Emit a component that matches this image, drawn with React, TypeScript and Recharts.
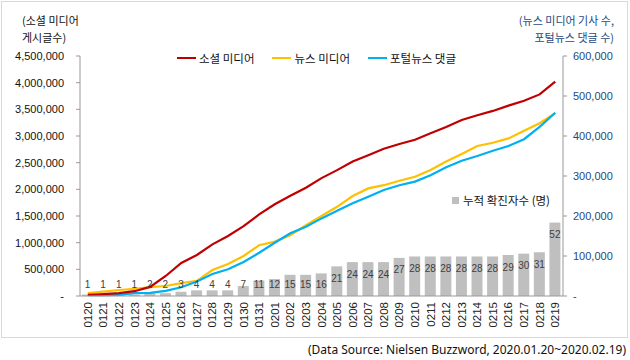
import { ComposedChart, Bar, Line, XAxis, YAxis, LabelList } from 'recharts';

const days = ['0120', '0121', '0122', '0123', '0124', '0125', '0126', '0127', '0128', '0129', '0130', '0131', '0201', '0202', '0203', '0204', '0205', '0206', '0207', '0208', '0209', '0210', '0211', '0212', '0213', '0214', '0215', '0216', '0217', '0218', '0219'];
const socialPosts = [20000, 35000, 55000, 90000, 170000, 375000, 619000, 769000, 969000, 1125000, 1310000, 1530000, 1720000, 1880000, 2030000, 2210000, 2360000, 2520000, 2640000, 2760000, 2850000, 2930000, 3050000, 3170000, 3300000, 3390000, 3470000, 3570000, 3660000, 3780000, 4020000];
const newsArticles = [7000, 11000, 15000, 18000, 22000, 25000, 32000, 38000, 65000, 80000, 100000, 127000, 136000, 152000, 177000, 200000, 223000, 250000, 269000, 277000, 288000, 298000, 315000, 336000, 355000, 375000, 383000, 394000, 413000, 432000, 457000];
const portalComments = [2000, 2000, 3000, 7000, 8000, 13000, 22000, 36000, 55000, 67000, 85000, 108000, 133000, 157000, 173000, 194000, 213000, 232000, 248000, 265000, 277000, 286000, 302000, 322000, 338000, 350000, 363000, 375000, 392000, 423000, 458000];
const confirmed = [1, 1, 1, 1, 2, 2, 3, 4, 4, 4, 7, 11, 12, 15, 15, 16, 21, 24, 24, 24, 27, 28, 28, 28, 28, 28, 28, 29, 30, 31, 52];
const leftTicks = [0, 500000, 1000000, 1500000, 2000000, 2500000, 3000000, 3500000, 4000000, 4500000];
const rightTicks = [0, 100000, 200000, 300000, 400000, 500000, 600000];

const data = days.map((d, i) => ({
    day: d,
    social: socialPosts[i],
    news: newsArticles[i],
    portal: portalComments[i],
    cases: confirmed[i],
}));

const fmt = (v: number) => (v === 0 ? '-' : v.toLocaleString('en-US'));
const FONT = 'Arial, "Liberation Sans", "Noto Sans CJK KR", sans-serif';
const KFONT = '"Noto Sans CJK KR", "Malgun Gothic", sans-serif';

const DayTick = (props: any) => {
    const { x, y, payload } = props;
    return (
        <text x={x} y={y} transform={`rotate(-90 ${x} ${y})`} textAnchor="end" dominantBaseline="central"
            fontSize={11.5} fill="#222" fontFamily={FONT}>
            {payload.value}
        </text>
    );
};

// 값 라벨: 막대 안쪽 위, 막대가 짧으면 바닥 위에 고정
const CaseLabel = (props: any) => {
    const { x, y, width, height, value } = props;
    const base = y + height;
    const cy = Math.min(y + 12, base - 12);
    return (
        <text x={x + width / 2} y={cy} textAnchor="middle" dominantBaseline="central"
            fontSize={10} fill="#404040" fontFamily={FONT}>
            {value}
        </text>
    );
};

const legendItems = [
    { name: '소셜 미디어', color: '#C00000' },
    { name: '뉴스 미디어', color: '#FFC000' },
    { name: '포털뉴스 댓글', color: '#00B0F0' },
];

const titleStyle = { position: 'absolute' as const, fontSize: 11, lineHeight: '12px', whiteSpace: 'nowrap' as const };

export default function App() {
    return (
        <div style={{ position: 'absolute', left: 0, top: 0, width: 630, height: 360, background: '#fff', fontFamily: KFONT }}>
            {/* frame */}
            <div style={{ position: 'absolute', left: 1, top: 1, width: 625, height: 335, border: '1px solid #D9D9D9' }} />

            <div style={{ position: 'absolute', left: 0, top: 0 }}>
                <ComposedChart width={630} height={340} data={data} margin={{ top: 56, right: 0, bottom: 0, left: 0 }}>
                    <XAxis dataKey="day" interval={0} height={44} tickLine={false} tickSize={0} tickMargin={6}
                        stroke="#999" tick={<DayTick />} />
                    <YAxis yAxisId="left" width={80} domain={[0, 4500000]} ticks={leftTicks} tickFormatter={fmt}
                        stroke="#999" tickSize={4} tickMargin={12} interval={0}
                        tick={{ fontSize: 11, fill: '#111', fontFamily: FONT }} />
                    <YAxis yAxisId="right" orientation="right" width={67} domain={[0, 600000]} ticks={rightTicks}
                        tickFormatter={fmt} stroke="#999" tickSize={4} tickMargin={6} interval={0}
                        tick={{ fontSize: 11, fill: '#1F497D', fontFamily: FONT, textAnchor: 'start' }} />
                    <YAxis yAxisId="bar" orientation="right" hide width={0} domain={[0, 170]} />
                    <Bar yAxisId="bar" dataKey="cases" fill="#BFBFBF" barSize={11} isAnimationActive={false}>
                        <LabelList dataKey="cases" content={<CaseLabel />} />
                    </Bar>
                    <Line yAxisId="right" dataKey="news" stroke="#FFC000" strokeWidth={2.2} dot={false} type="linear" isAnimationActive={false} />
                    <Line yAxisId="right" dataKey="portal" stroke="#00B0F0" strokeWidth={2.2} dot={false} type="linear" isAnimationActive={false} />
                    <Line yAxisId="left" dataKey="social" stroke="#C00000" strokeWidth={2.2} dot={false} type="linear" isAnimationActive={false} />
                </ComposedChart>
            </div>

            {/* axis titles */}
            <div style={{ ...titleStyle, left: 22, top: 14, color: '#111' }}>(소셜 미디어</div>
            <div style={{ ...titleStyle, left: 22, top: 31, color: '#111' }}>게시글수)</div>
            <div style={{ ...titleStyle, right: 16, top: 14, color: '#1F497D', textAlign: 'right' }}>(뉴스 미디어 기사 수,</div>
            <div style={{ ...titleStyle, right: 16, top: 31, color: '#1F497D', textAlign: 'right' }}>포털뉴스 댓글 수)</div>

            {/* line legend */}
            <div style={{ position: 'absolute', left: 177, top: 50, display: 'flex', alignItems: 'center', fontSize: 11.5, color: '#111' }}>
                {legendItems.map(it => (
                    <div key={it.name} style={{ display: 'flex', alignItems: 'center', marginRight: 18 }}>
                        <span style={{ display: 'inline-block', width: 19, height: 2, background: it.color, marginRight: 3 }} />
                        <span>{it.name}</span>
                    </div>
                ))}
            </div>

            {/* bar legend */}
            <div style={{ position: 'absolute', left: 452, top: 192, display: 'flex', alignItems: 'center', fontSize: 11.5, color: '#111' }}>
                <span style={{ display: 'inline-block', width: 7, height: 7, background: '#BFBFBF', marginRight: 4 }} />
                <span>누적 확진자수 (명)</span>
            </div>

            <div style={{ position: 'absolute', right: 4, top: 341, fontSize: 12, color: '#111', fontFamily: '"Noto Sans", Arial, sans-serif', whiteSpace: 'nowrap' }}>
                (Data Source: Nielsen Buzzword, 2020.01.20~2020.02.19)
            </div>
        </div>
    );
}
